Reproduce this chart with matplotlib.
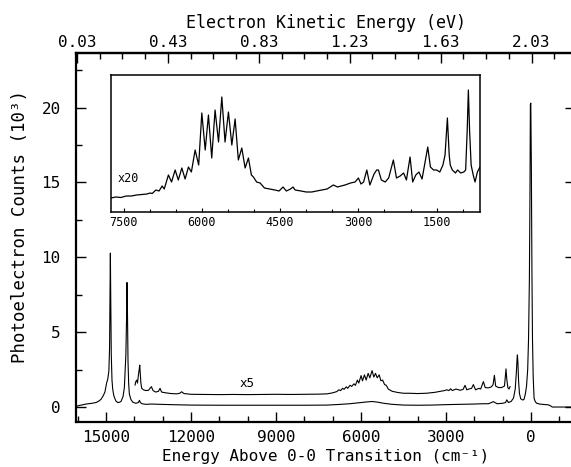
import matplotlib
matplotlib.use("Agg")
import matplotlib.pyplot as plt
from matplotlib.ticker import FixedLocator, MultipleLocator

plt.rcParams['font.family'] = ['DejaVu Sans Mono', 'DejaVu Sans']

# ---------------- data ----------------
# full spectrum, x1 (energy above 0-0 in cm^-1, counts in 10^3)
main_cm = [16060, 15900, 15706, 15500, 15353, 15250, 15176, 15100, 15040, 14980,
           14941, 14900, 14875, 14860, 14847, 14835, 14815, 14790, 14765, 14730,
           14706, 14650, 14588, 14520, 14470, 14400, 14353, 14300, 14270, 14259,
           14245, 14224, 14200, 14176, 14120, 14059, 13950, 13860, 13820, 13790,
           13729, 13600, 13400, 13100, 12500, 12000, 11000, 10000, 9000, 8000,
           7200, 6800, 6400, 6000, 5800, 5600, 5400, 5200, 4900, 4500,
           4000, 3500, 3000, 2500, 2000, 1700, 1500, 1330, 1200, 1000,
           900, 858, 800, 700, 620, 560, 520, 495, 483, 465,
           440, 410, 365, 300, 250, 200, 160, 120, 90, 60,
           40, 25, 10, -10, -30, -50, -75, -106, -150, -200,
           -300, -450, -600, -670, -750, -1550]
main_counts = [0.05, 0.12, 0.20, 0.25, 0.30, 0.40, 0.52, 0.75, 1.00, 1.60,
               1.85, 2.40, 4.00, 7.50, 10.28, 7.50, 3.50, 1.80, 1.20, 0.80,
               0.65, 0.40, 0.30, 0.32, 0.38, 0.70, 1.30, 3.50, 6.50, 8.32,
               6.50, 3.00, 1.50, 0.85, 0.50, 0.33, 0.25, 0.30, 0.45, 0.30,
               0.22, 0.18, 0.20, 0.18, 0.15, 0.13, 0.12, 0.12, 0.12, 0.12,
               0.13, 0.17, 0.22, 0.30, 0.34, 0.37, 0.32, 0.25, 0.18, 0.13,
               0.12, 0.13, 0.16, 0.18, 0.20, 0.22, 0.22, 0.36, 0.22, 0.25,
               0.30, 0.48, 0.30, 0.38, 0.60, 1.20, 2.30, 3.20, 3.48, 3.00,
               1.70, 0.90, 0.55, 0.47, 0.50, 0.90, 1.40, 2.50, 4.50, 8.50,
               14.00, 20.20, 20.30, 16.00, 9.00, 4.50, 2.00, 0.58, 0.35, 0.25,
               0.20, 0.17, 0.15, 0.10, 0.0, 0.0]

# x5 trace (same axes, counts in 10^3 as plotted)
x5_cm = [13976, 13950, 13917, 13890, 13860, 13830, 13811, 13790, 13770, 13741,
         13680, 13600, 13500, 13400, 13340, 13250, 13150, 13094, 13040, 12900,
         12700, 12500, 12400, 12330, 12250, 12000, 11500, 11000, 10500, 10000,
         9500, 9000, 8500, 8000, 7500, 7200, 7000, 6860, 6780, 6720,
         6650, 6600, 6520, 6470, 6390, 6330, 6250, 6200, 6130, 6080,
         6000, 5950, 5880, 5820, 5750, 5690, 5610, 5550, 5490, 5430,
         5360, 5300, 5240, 5170, 5110, 5040, 4900, 4700, 4500, 4300,
         4000, 3700, 3400, 3200, 3050, 2980, 2900, 2840, 2780, 2650,
         2500, 2400, 2330, 2270, 2200, 2100, 2036, 1960, 1840, 1780,
         1683, 1620, 1500, 1400, 1340, 1295, 1250, 1150, 1040, 940,
         910, 885, 860, 820, 780, 741]
x5_counts = [1.47, 1.70, 1.80, 1.60, 2.10, 2.50, 2.80, 2.20, 1.60, 1.25,
             1.15, 1.10, 1.12, 1.36, 1.10, 1.00, 1.05, 1.25, 1.00, 0.95,
             0.90, 0.88, 0.92, 1.02, 0.90, 0.85, 0.84, 0.83, 0.84, 0.83,
             0.84, 0.85, 0.84, 0.85, 0.86, 0.88, 0.95, 1.03, 1.15, 1.10,
             1.25, 1.18, 1.35, 1.25, 1.45, 1.38, 1.55, 1.45, 1.80, 1.60,
             2.10, 1.75, 2.15, 1.80, 2.25, 1.95, 2.43, 2.00, 2.25, 1.95,
             2.15, 1.75, 1.80, 1.50, 1.45, 1.20, 1.05, 0.97, 0.92, 0.92,
             0.90, 0.92, 0.98, 1.05, 1.10, 1.15, 1.10, 1.22, 1.10, 1.20,
             1.12, 1.18, 1.45, 1.15, 1.20, 1.25, 1.50, 1.15, 1.25, 1.20,
             1.70, 1.30, 1.28, 1.35, 1.50, 2.12, 1.40, 1.30, 1.30, 1.40,
             2.00, 2.55, 1.90, 1.30, 1.20, 1.36]

# inset, x20 trace (arbitrary units)
inset_cm = [7740, 7650, 7550, 7450, 7350, 7250, 7150, 7050, 6990, 6950,
            6880, 6820, 6760, 6720, 6680, 6640, 6580, 6511, 6450, 6383,
            6320, 6256, 6200, 6128, 6060, 6000, 5935, 5873, 5810, 5746,
            5680, 5617, 5555, 5490, 5425, 5362, 5300, 5234, 5170, 5107,
            5050, 5011, 4950, 4883, 4800, 4700, 4600, 4520, 4444, 4380,
            4300, 4252, 4213, 4100, 4000, 3893, 3800, 3700, 3600, 3479,
            3400, 3330, 3257, 3150, 3063, 3000, 2950, 2900, 2839, 2780,
            2700, 2650, 2616, 2560, 2487, 2420, 2330, 2270, 2200, 2134,
            2080, 2010, 1960, 1900, 1840, 1780, 1671, 1620, 1560, 1500,
            1440, 1380, 1340, 1295, 1260, 1240, 1200, 1140, 1100, 1040,
            980, 945, 915, 893, 870, 840, 800, 765, 720, 670]
inset_counts = [12, 13, 12.5, 14, 14, 15, 15.5, 16, 17, 16.5,
                20, 19, 24, 21, 28, 35, 28, 40, 30, 42,
                31, 43, 38, 60, 45, 97, 60, 95, 52, 100,
                68, 113, 68, 98, 65, 91, 50, 62, 42, 52,
                35, 33, 28, 27, 22, 21, 20, 19, 23, 19,
                21, 23, 20, 19, 18, 18, 19, 20, 21, 25,
                23, 24, 25, 27, 28, 32, 26, 28, 40, 25,
                36, 40, 40, 30, 28, 32, 50, 32, 34, 37,
                30, 53, 28, 35, 38, 31, 63, 43, 40, 40,
                38, 45, 55, 92, 55, 45, 40, 37, 40, 37,
                38, 40, 80, 120, 80, 45, 35, 28, 38, 43]

x_ticks = [15000, 12000, 9000, 6000, 3000, 0]
y_ticks = [0, 5, 10, 15, 20]
ev_ticks = [0.03, 0.43, 0.83, 1.23, 1.63, 2.03]
ev_minor = [0.13, 0.23, 0.33, 0.53, 0.63, 0.73, 0.93, 1.03, 1.13,
            1.33, 1.43, 1.53, 1.73, 1.83, 1.93, 2.13]
inset_ticks = [7500, 6000, 4500, 3000, 1500]

# ---------------- figure ----------------
fig = plt.figure(figsize=(5.71, 4.67), dpi=100)
ax = fig.add_axes([76/571, 45/467, 499/571, 369/467])

lc = 'black'
ax.plot(main_cm, main_counts, color=lc, lw=0.8)
ax.plot(x5_cm, x5_counts, color=lc, lw=0.8)
ax.text(10024, 1.55, 'x5', fontsize=9, ha='center', va='center')

ax.set_xlim(16060, -1550)
ax.set_ylim(-1.0, 23.65)

ax.xaxis.set_major_locator(FixedLocator(x_ticks))
ax.xaxis.set_minor_locator(MultipleLocator(1000))
ax.yaxis.set_major_locator(FixedLocator(y_ticks))
ax.yaxis.set_minor_locator(MultipleLocator(2.5))
ax.set_xticklabels([str(v) for v in x_ticks])
ax.set_yticklabels([str(v) for v in y_ticks])

ax.tick_params(axis='x', which='major', direction='in', length=7, width=1.0,
               labelsize=11.5, pad=6, top=False)
ax.tick_params(axis='x', which='minor', direction='in', length=4, width=1.0, top=False)
ax.tick_params(axis='y', which='major', direction='in', length=7, width=1.0,
               labelsize=11.5, pad=11, right=True)
ax.tick_params(axis='y', which='minor', direction='in', length=4, width=1.0, right=False)

for s in ax.spines.values():
    s.set_linewidth(1.6)
ax.spines['right'].set_visible(False)

ax.set_xlabel('Energy Above 0-0 Transition (cm\u207b\u00b9)', fontsize=11.5)
ax.xaxis.set_label_coords(0.501, -0.072)
ax.set_ylabel('Photoelectron Counts (10\u00b3)', fontsize=12.5)
ax.yaxis.set_label_coords(-0.094, 0.53)

E0, K = 2.028, 8020.0
sec = ax.secondary_xaxis('top', functions=(lambda c: E0 - c / K, lambda e: (E0 - e) * K))
sec.xaxis.set_major_locator(FixedLocator(ev_ticks))
sec.xaxis.set_minor_locator(FixedLocator(ev_minor))
sec.set_xticklabels(['%.2f' % v for v in ev_ticks])
sec.tick_params(which='major', direction='in', length=7, width=1.0, labelsize=11.5, pad=2)
sec.tick_params(which='minor', direction='in', length=4, width=1.0)
sec.spines['top'].set_linewidth(1.6)
sec.set_xlabel('Electron Kinetic Energy (eV)', fontsize=12, labelpad=5)

# ---------------- inset ----------------
ins = fig.add_axes([111/571, (467-211.5)/467, 369/571, 136.5/467])
ins.plot(inset_cm, inset_counts, color=lc, lw=0.9)
ins.set_xlim(7740, 670)
ins.set_ylim(-1.5, 135)
ins.xaxis.set_major_locator(FixedLocator(inset_ticks))
ins.xaxis.set_minor_locator(MultipleLocator(500))
ins.set_xticklabels([str(v) for v in inset_ticks])
ins.set_yticks([])
ins.tick_params(axis='x', which='major', direction='in', length=3, width=0.8,
                labelsize=8.5, pad=3)
ins.tick_params(axis='x', which='minor', direction='in', length=2, width=0.8)
for s in ins.spines.values():
    s.set_linewidth(1.1)
ins.text(7606, 31, 'x20', fontsize=8.5, ha='left', va='center')

fig.savefig('out.png', dpi=100)
